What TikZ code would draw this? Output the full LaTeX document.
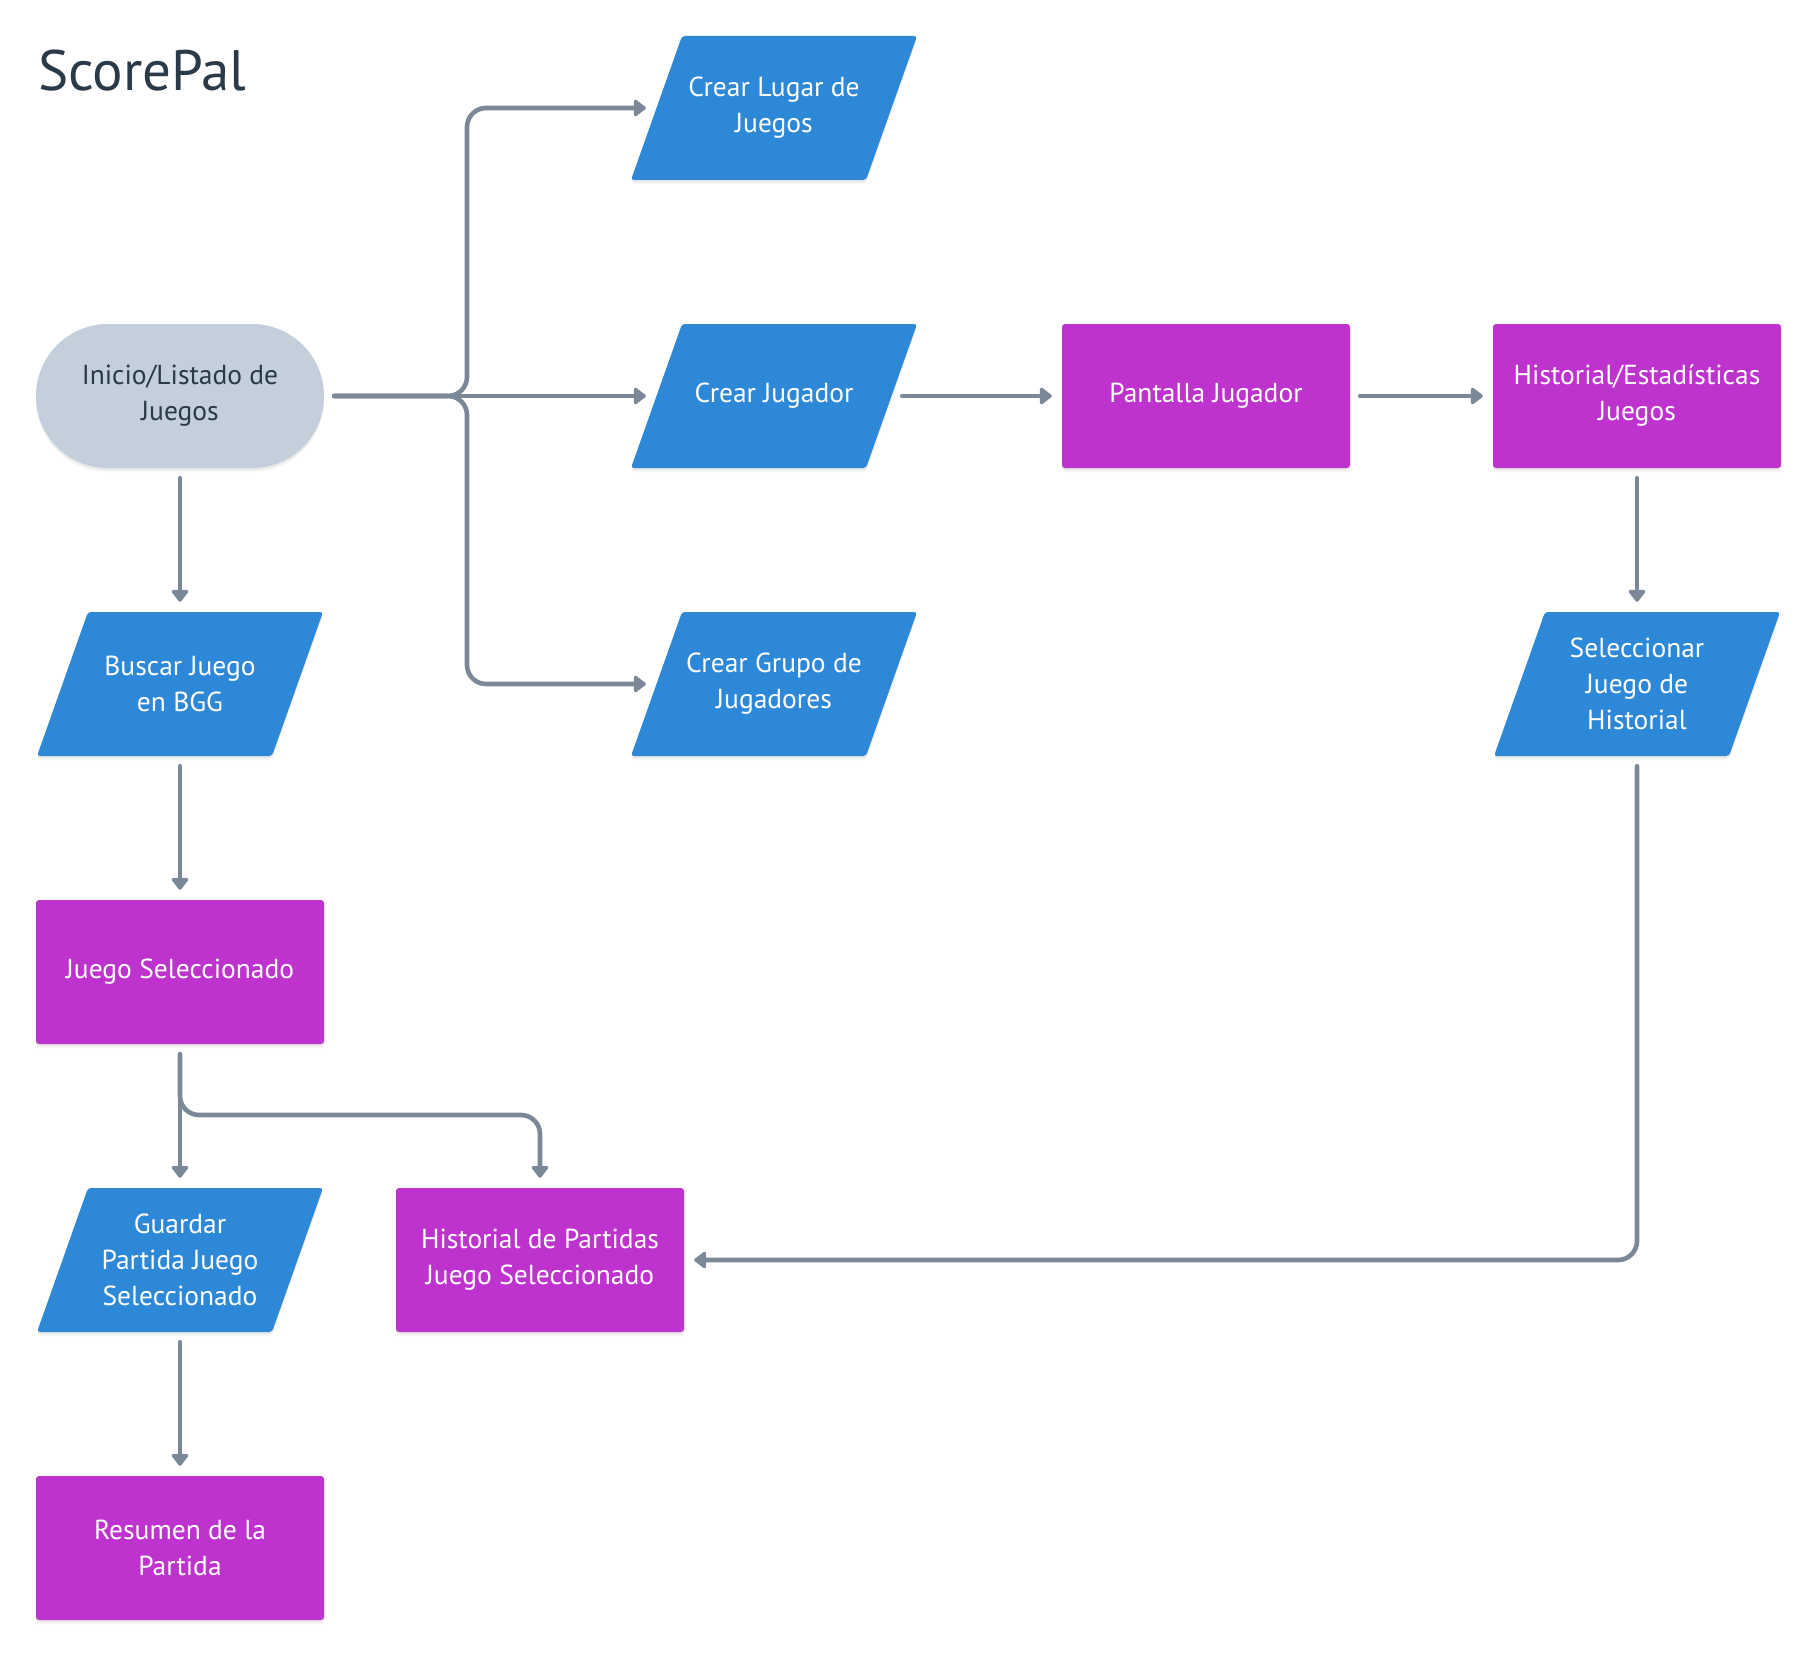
\documentclass[tikz,border=0pt]{standalone}
\usepackage{fontspec}
\setmainfont{PT Sans}
\usetikzlibrary{arrows.meta}

\definecolor{ioblue}{HTML}{2E88D8}
\definecolor{procpurple}{HTML}{BE33CE}
\definecolor{termgray}{HTML}{C3CFDA}
\definecolor{linegray}{HTML}{7A8898}
\definecolor{inkdark}{HTML}{2B3A48}

\tikzset{
  softshadow/.style={
      preaction={fill=black, fill opacity=0.04, transform canvas={yshift=-4pt}},
      preaction={fill=black, fill opacity=0.05, transform canvas={yshift=-2pt}}},
  label text/.style={font=\fontsize{27.5}{36}\selectfont, align=center, inner sep=0pt},
  procbox/.style={label text, rectangle, fill=procpurple, text=white,
      minimum width=288pt, minimum height=144pt, rounded corners=3pt, softshadow},
  termbox/.style={label text, rectangle, fill=termgray, text=inkdark,
      minimum width=288pt, minimum height=144pt, rounded corners=72pt, softshadow},
  iotext/.style={label text, rectangle, text=white,
      minimum width=236pt, minimum height=144pt},
  conn/.style={draw=linegray, line width=4.6pt, line cap=round,
      rounded corners=19pt, shorten <=10pt, shorten >=10pt,
      -{Triangle[length=13pt,width=19pt,round]}},
}

% input/output parallelogram: filled shape plus a named text node
\newcommand\ioblock[4]{%
  \fill[ioblue, rounded corners=3pt, softshadow]
    (#2-92,#3-72) -- (#2+143,#3-72) -- (#2+92,#3+72) -- (#2-143,#3+72) -- cycle;
  \node[iotext] (#1) at (#2,#3) {#4};
}

\begin{document}
\begin{tikzpicture}[x=1pt,y=-1pt]
  \useasboundingbox[fill=white] (0,0) rectangle (1818,1656);

  \node[anchor=base west, inner sep=0pt, text=inkdark,
        font=\fontsize{57}{64}\selectfont] (title) at (38,91) {ScorePal};

  % nodes
  \node[termbox] (start) at (180,396) {Inicio/Listado de\\Juegos};
  \ioblock{lugar}{774}{108}{Crear Lugar de\\Juegos}
  \ioblock{jugador}{774}{396}{Crear Jugador}
  \ioblock{grupo}{774}{684}{Crear Grupo de\\Jugadores}
  \node[procbox] (pantalla) at (1206,396) {Pantalla Jugador};
  \node[procbox] (histest) at (1637,396) {Historial/Estadísticas\\Juegos};
  \ioblock{selec}{1637}{684}{Seleccionar\\Juego de\\Historial}
  \ioblock{buscar}{180}{684}{Buscar Juego\\en BGG}
  \node[procbox] (juegosel) at (180,972) {Juego Seleccionado};
  \ioblock{guardar}{180}{1260}{Guardar\\Partida Juego\\Seleccionado}
  \node[procbox] (histpart) at (540,1260) {Historial de Partidas\\Juego Seleccionado};
  \node[procbox] (resumen) at (180,1548) {Resumen de la\\Partida};

  % routing points
  \coordinate (fork) at (467,396);
  \coordinate (split) at (180,1115);

  % connectors
  \draw[conn] (start.east) -| (fork |- lugar.west) -- (lugar.west);
  \draw[conn] (start.east) -- (jugador.west);
  \draw[conn] (start.east) -| (fork |- grupo.west) -- (grupo.west);
  \draw[conn] (jugador.east) -- (pantalla.west);
  \draw[conn] (pantalla.east) -- (histest.west);
  \draw[conn] (histest.south) -- (selec.north);
  \draw[conn] (selec.south) |- (histpart.east);
  \draw[conn] (start.south) -- (buscar.north);
  \draw[conn] (buscar.south) -- (juegosel.north);
  \draw[conn] (juegosel.south) -- (guardar.north);
  \draw[conn] (juegosel.south) -- (split) -| (histpart.north);
  \draw[conn] (guardar.south) -- (resumen.north);
\end{tikzpicture}
\end{document}
